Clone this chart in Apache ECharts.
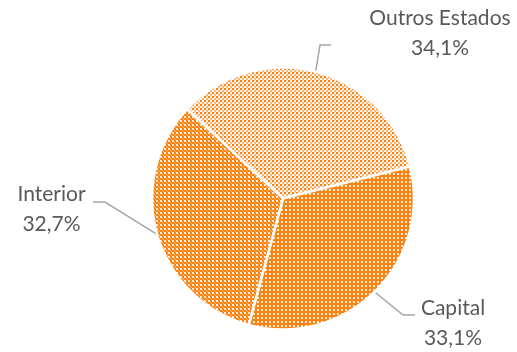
<!DOCTYPE html>
<html><head><meta charset="utf-8">
<script src="https://cdn.jsdelivr.net/npm/echarts@6/dist/echarts.min.js"></script>
<style>html,body{margin:0;padding:0;background:#fff}#c{width:517px;height:352px}</style>
</head><body><div id="c"></div>
<script>
// ---- data ----
const categories = ['Outros Estados', 'Capital', 'Interior'];
const values = [34.1, 33.1, 32.7];
const valueLabels = ['34,1%', '33,1%', '32,7%'];

// ---- styling / layout ----
const ORANGE = '#fc820f';
const TEXT = '#595959';
const FONT = 'Lato, "Open Sans", sans-serif';
// label block centres (layout only)
const labelCenters = [[440, 33], [453, 323], [51.5, 209]];
// line end relative to label centre, and horizontal segment length (signed)
const lineEndOffsets = [[-109, 12], [-38, -8], [41.5, -7]];
const hSeg = [-11, -12, 12];

function makePattern(kind) {
  const c = document.createElement('canvas');
  c.width = 4; c.height = 4;
  const g = c.getContext('2d');
  if (kind === 0) { // light checker (Outros Estados)
    g.fillStyle = '#ffffff'; g.fillRect(0, 0, 4, 4);
    g.fillStyle = ORANGE; g.fillRect(0, 0, 2, 2);
    g.fillStyle = 'rgba(252,130,15,0.6)'; g.fillRect(2, 2, 2, 2);
    g.fillStyle = 'rgba(252,130,15,0.3)'; g.fillRect(2, 0, 1, 1); g.fillRect(0, 2, 1, 1);
  } else if (kind === 1) { // dense orange with white dots (Capital)
    g.fillStyle = ORANGE; g.fillRect(0, 0, 4, 4);
    g.fillStyle = 'rgba(255,255,255,0.85)'; g.fillRect(1, 1, 2, 2);
  } else { // medium checker (Interior)
    g.fillStyle = ORANGE; g.fillRect(0, 0, 4, 4);
    g.fillStyle = 'rgba(255,255,255,0.85)'; g.fillRect(0, 0, 2, 2);
    g.fillStyle = 'rgba(255,255,255,0.45)'; g.fillRect(2, 2, 1, 1); g.fillRect(3, 3, 1, 1);
  }
  return c;
}

const chart = echarts.init(document.getElementById('c'), null, { renderer: 'canvas' });
chart.setOption({
  backgroundColor: '#ffffff',
  animation: false,
  series: [{
    type: 'pie',
    center: [283, 198.5],
    radius: 131,
    startAngle: 137,
    clockwise: true,
    avoidLabelOverlap: false,
    itemStyle: { borderColor: '#ffffff', borderWidth: 2.5 },
    data: categories.map((name, i) => ({
      name: name,
      value: values[i],
      itemStyle: { color: { image: makePattern(i), repeat: 'repeat' } }
    })),
    label: {
      show: true,
      position: 'outside',
      width: 180,
      overflow: 'none',
      formatter: p => '{n|' + p.name + '}\n{v|' + valueLabels[p.dataIndex] + '}',
      rich: {
        n: { align: 'center', fontSize: 21, lineHeight: 30, color: TEXT, fontFamily: FONT },
        v: { align: 'center', fontSize: 21, lineHeight: 30, color: TEXT, fontFamily: FONT }
      }
    },
    labelLine: { show: true, smooth: false, length: 20, length2: 10,
      lineStyle: { color: '#a6a6a6', width: 1.5 } },
    labelLayout: function (params) {
      const i = params.dataIndex;
      const c = labelCenters[i];
      const end = [c[0] + lineEndOffsets[i][0], c[1] + lineEndOffsets[i][1]];
      const bend = [end[0] + hSeg[i], end[1]];
      const pts = params.labelLinePoints;
      const start = pts && pts[0] ? pts[0] : bend;
      return {
        x: c[0], y: c[1], align: 'center', verticalAlign: 'middle',
        labelLinePoints: [start, bend, end]
      };
    }
  }]
});
</script>
</body></html>
